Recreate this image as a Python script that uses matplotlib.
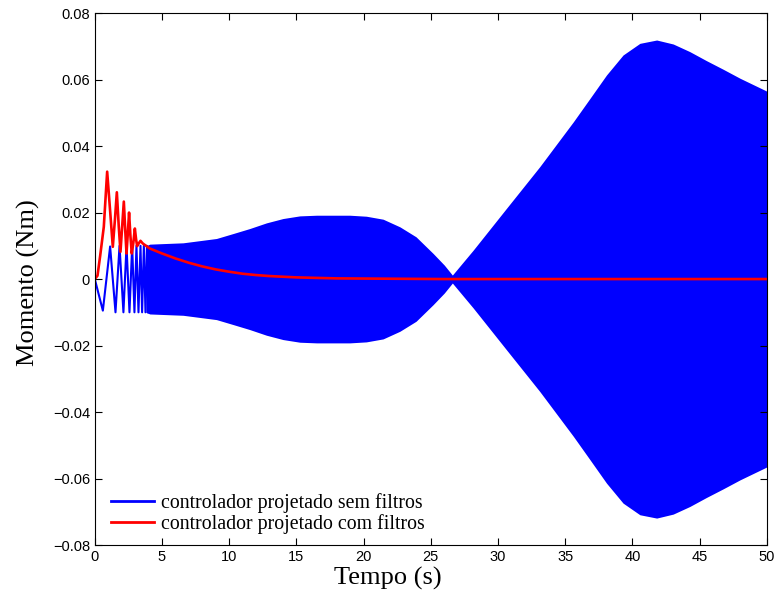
import matplotlib
matplotlib.use('Agg')
import matplotlib.pyplot as plt
import numpy as np

# controller without filters: start-up swings (alternating extremes)
t_sem_ini = [0.0, 0.60, 1.14, 1.54, 1.84, 2.13, 2.36, 2.58, 2.78, 2.95, 3.10,
             3.25, 3.40, 3.52, 3.65, 3.77, 3.88, 3.98]
m_sem_ini = [0.0, -0.0095, 0.0098, -0.0100, 0.0100, -0.0100, 0.0100, -0.0100,
             0.0100, -0.0100, 0.0100, -0.0100, 0.0100, -0.0100, 0.0100,
             -0.0100, 0.0100, -0.0100]

# controller without filters: envelope of the fast oscillation
t_env = [3.8, 4.09, 6.57, 9.05, 10.3, 11.53, 12.77, 14.0, 15.25, 16.5, 18.97,
         20.2, 21.45, 22.7, 23.9, 25.17, 26.0, 26.6, 28.15, 30.63, 33.1, 35.6,
         36.83, 38.07, 39.3, 40.55, 41.8, 43.03, 44.27, 45.5, 46.75, 48.0,
         49.85, 50.0]
amp_env = [0.0100, 0.0105, 0.0109, 0.0122, 0.0137, 0.0152, 0.0169, 0.0182,
           0.0190, 0.0192, 0.0192, 0.0189, 0.0180, 0.0157, 0.0127, 0.0077,
           0.0042, 0.0012, 0.0087, 0.0213, 0.0338, 0.0473, 0.0543, 0.0614,
           0.0674, 0.0709, 0.0719, 0.0707, 0.0684, 0.0657, 0.0631, 0.0604,
           0.0568, 0.0565]

# controller with filters
t_com = [0.0, 0.2, 0.4, 0.67, 0.92, 1.15, 1.34, 1.50, 1.64, 1.78, 1.91, 2.04,
         2.16, 2.26, 2.36, 2.46, 2.55, 2.65, 2.75, 2.87, 2.98, 3.07, 3.15,
         3.28, 3.40, 3.57, 4.09, 5.0, 6.0, 7.0, 8.0, 9.0, 10.0, 11.0, 12.0,
         13.0, 15.0, 18.0, 22.0, 26.0, 50.0]
m_com = [0.0, 0.001, 0.007, 0.0157, 0.0323, 0.020, 0.0097, 0.018, 0.0261,
         0.016, 0.0082, 0.016, 0.0233, 0.015, 0.0077, 0.014, 0.0200, 0.013,
         0.0077, 0.011, 0.0152, 0.012, 0.0099, 0.0108, 0.0115, 0.0107, 0.0092,
         0.0077, 0.0062, 0.0049, 0.0038, 0.0029, 0.0022, 0.0016, 0.0012,
         0.0009, 0.0005, 0.0002, 0.0001, 0.0, 0.0]

fig = plt.figure(figsize=(7.77, 5.95), dpi=100)
ax = fig.add_axes([0.122, 0.084, 0.865, 0.894])

env = np.array(amp_env)
ax.fill_between(t_env, -env, env, color=(0, 0, 1), linewidth=0)
ax.plot(t_sem_ini, m_sem_ini, color=(0, 0, 1), lw=1.5,
        label='controlador projetado sem filtros')
ax.plot(t_com, m_com, color=(1, 0, 0), lw=1.9,
        label='controlador projetado com filtros')

ax.set_xlim(0, 50)
ax.set_ylim(-0.08, 0.08)
ax.set_xticks(np.arange(0, 51, 5))
ax.set_yticks(np.arange(-0.08, 0.081, 0.02))
ax.set_yticklabels(['\u22120.08', '\u22120.06', '\u22120.04', '\u22120.02', '0',
                    '0.02', '0.04', '0.06', '0.08'])
ax.tick_params(direction='in', top=True, right=True, length=5, width=0.8,
               labelsize=10.5)
for lab in ax.get_xticklabels() + ax.get_yticklabels():
    lab.set_family('Liberation Sans')
for s in ax.spines.values():
    s.set_linewidth(0.8)

ax.set_xlabel('Tempo (s)', family='Liberation Serif', fontsize=19)
ax.xaxis.set_label_coords(0.436, -0.042)
ax.set_ylabel('Momento (Nm)', family='Liberation Serif', fontsize=19)
ax.yaxis.set_label_coords(-0.082, 0.4925)

leg = ax.legend(loc='lower left', frameon=False,
                prop={'family': 'Liberation Serif', 'size': 14.3},
                handlelength=2.2, handletextpad=0.35, labelspacing=0.05,
                borderpad=0, borderaxespad=0,
                bbox_to_anchor=(0.0238, 0.0206))
for h in leg.get_lines():
    h.set_linewidth(2.0)

fig.savefig('out.png', dpi=100)
